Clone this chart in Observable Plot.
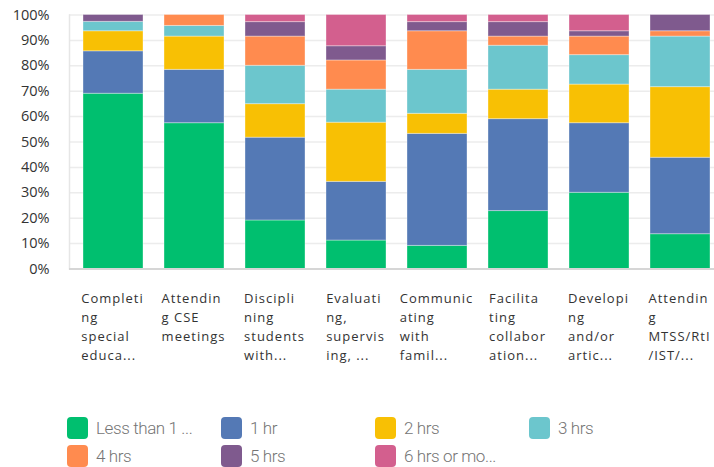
<!DOCTYPE html>
<html><head><meta charset="utf-8">
<script src="https://cdn.jsdelivr.net/npm/d3@7"></script>
<script src="https://cdn.jsdelivr.net/npm/@observablehq/plot@0.6"></script>
<style>
body{margin:0;background:#fff;}
#wrap{position:relative;width:714px;height:467px;overflow:hidden;font-family:"Open Sans",sans-serif;}
#chart svg{display:block;}
#legend{position:absolute;left:67px;top:417px;display:grid;grid-template-columns:repeat(4,154px);row-gap:6px;}
.item{display:flex;align-items:center;height:22px;}
.sw{width:21px;height:22px;border-radius:4px;margin-right:8px;flex:none;}
.lab{font-family:"Liberation Sans Narrow","Roboto",sans-serif;font-weight:300;font-size:17px;letter-spacing:-0.4px;color:#757575;white-space:nowrap;}
g[aria-label="x-axis tick label"] text{letter-spacing:1px;}
</style></head>
<body><div id="wrap"><div id="chart"></div><div id="legend"></div></div>
<script>
const categories = ["Completing special education", "Attending CSE meetings", "Disciplining students with", "Evaluating, supervising", "Communicating with families", "Facilitating collaboration", "Developing and/or articulating", "Attending MTSS/RtI/IST"];
const tickLabels = ["Completi\nng\nspecial\neduca...", "Attendin\ng CSE\nmeetings", "Discipli\nning\nstudents\nwith...", "Evaluati\nng,\nsupervis\ning, ...", "Communic\nating\nwith\nfamil...", "Facilita\nting\ncollabor\nation...", "Developi\nng\nand/or\nartic...", "Attendin\ng\nMTSS/RtI\n/IST/..."];
const series = ["Less than 1 ...", "1 hr", "2 hrs", "3 hrs", "4 hrs", "5 hrs", "6 hrs or mo..."];
const colors = ["#00bf6f", "#5479b5", "#f8c004", "#6cc6cd", "#ff8b4f", "#7f5a8e", "#d35f8e"];
const lessThan1 = [69.0, 57.4, 19.1, 11.2, 9.1, 22.8, 30.0, 13.7];
const hr1       = [16.7, 21.0, 32.6, 23.1, 44.1, 36.2, 27.4, 30.1];
const hrs2      = [7.9, 13.1, 13.2, 23.3, 7.9, 11.6, 15.2, 27.8];
const hrs3      = [3.7, 4.2, 15.1, 13.0, 17.3, 17.3, 11.6, 19.9];
const hrs4      = [0, 4.3, 11.5, 11.5, 15.2, 3.6, 7.3, 2.1];
const hrs5      = [2.7, 0, 5.7, 5.6, 3.6, 5.7, 2.1, 6.4];
const hrs6      = [0, 0, 2.8, 12.3, 2.8, 2.8, 6.4, 0];
const yTicks = [0, 10, 20, 30, 40, 50, 60, 70, 80, 90, 100];

const seriesValues = [lessThan1, hr1, hrs2, hrs3, hrs4, hrs5, hrs6];
const rows = series.flatMap((s, i) => categories.map((c, j) => ({category: c, series: s, value: seriesValues[i][j]})));

const chart = Plot.plot({
  width: 714, height: 400,
  marginLeft: 69, marginRight: 0, marginTop: 14.5, marginBottom: 131.5,
  style: {fontFamily: "Open Sans, sans-serif", background: "#fff"},
  x: {domain: categories, range: [69, 723.4], paddingInner: 0.262, paddingOuter: 0.156, label: null},
  y: {domain: [0, 100], label: null},
  color: {domain: series, range: colors},
  marks: [
    Plot.gridY(yTicks, {stroke: "#ececec", strokeOpacity: 1, strokeWidth: 1.5}),
    Plot.frame({anchor: "left", stroke: "#e6e6e6", strokeWidth: 1.5}),
    Plot.barY(rows, {x: "category", y: "value", fill: "series", stroke: "#ffffff", strokeOpacity: 0.35, strokeWidth: 1}),
    Plot.ruleY([0], {stroke: "#d6d6d6", strokeWidth: 2}),
    Plot.axisY({ticks: yTicks, tickSize: 0, tickPadding: 20, tickFormat: d => d + "%", fontSize: 14.5, fill: "#333", label: null}),
    Plot.axisX({tickSize: 0, tickPadding: 21, tickFormat: d => tickLabels[categories.indexOf(d)], textAnchor: "start", lineHeight: 1.45, fontSize: 13, fontWeight: 500, fill: "#333", label: null})
  ]
});
document.getElementById("chart").appendChild(chart);

// center each wrapped label block under its bar
d3.select(chart).selectAll('g[aria-label="x-axis tick label"] text').each(function() {
  const w = this.getBBox().width;
  const t = this.getAttribute("transform") || "";
  this.setAttribute("transform", t + ` translate(${-w / 2 - 1},0)`);
});

const legend = d3.select("#legend");
series.forEach((s, i) => {
  const it = legend.append("div").attr("class", "item");
  it.append("div").attr("class", "sw").style("background", colors[i]);
  it.append("span").attr("class", "lab").text(s);
});
</script>
</body></html>
